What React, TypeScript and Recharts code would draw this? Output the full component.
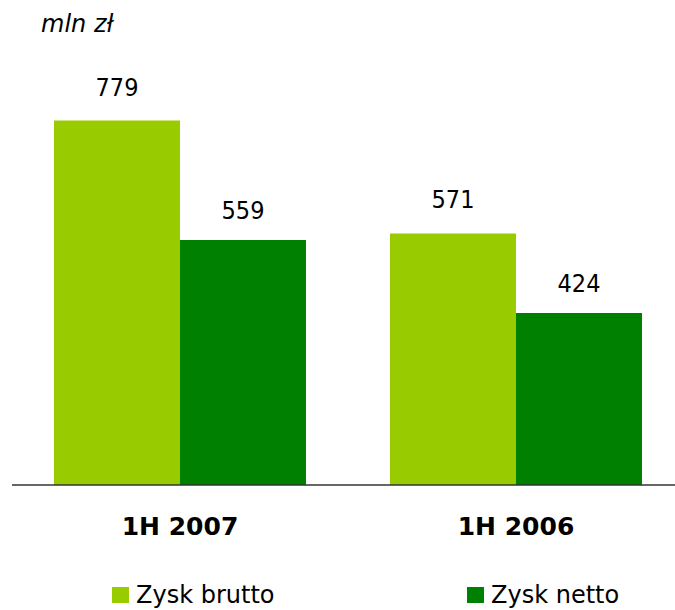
import React from 'react';
import { BarChart, Bar, XAxis, YAxis, Legend, LabelList } from 'recharts';

const periods = ['1H 2007', '1H 2006'];
const zyskBrutto = [779, 571];
const zyskNetto = [559, 424];

const data = periods.map((period, i) => ({
    period,
    brutto: zyskBrutto[i],
    netto: zyskNetto[i],
}));

const LIGHT = '#99cc00';
const DARK = '#008000';
const NUM_FONT = '"DejaVu Sans Condensed", "DejaVu Sans", sans-serif';

const renderLegend = (props: any) => {
    const { payload } = props;
    return (
        <div style={{ display: 'flex', fontFamily: '"DejaVu Sans", sans-serif', fontSize: 24, color: '#000' }}>
            {payload.map((entry: any, i: number) => (
                <div
                    key={entry.value}
                    style={{ display: 'flex', alignItems: 'center', marginLeft: i === 0 ? 112 : 0, width: i === 0 ? 355 : 200 }}
                >
                    <span style={{ display: 'inline-block', width: 17, height: 16, background: entry.color, marginRight: 7 }} />
                    <span>{entry.value}</span>
                </div>
            ))}
        </div>
    );
};

export default function App() {
    return (
        <div style={{ position: 'relative', width: 675, height: 610, overflow: 'hidden', background: '#fff' }}>
            <style>{`body { margin: 0; }`}</style>
            <div
                style={{
                    position: 'absolute',
                    left: 41,
                    top: 10,
                    fontFamily: '"DejaVu Sans", sans-serif',
                    fontStyle: 'italic',
                    fontSize: 24,
                    color: '#000',
                }}
            >
                mln zł
            </div>
            <BarChart
                width={684}
                height={610}
                data={data}
                margin={{ top: 55, right: 0, left: 12, bottom: 95 }}
                barCategoryGap={42}
                barGap={0}
            >
                <XAxis
                    dataKey="period"
                    height={30}
                    tickLine={false}
                    tickSize={0}
                    tickMargin={32}
                    stroke="#333"
                    strokeWidth={1.5}
                    tick={{ fill: '#000', fontSize: 25, fontWeight: 'bold', fontFamily: '"DejaVu Sans", sans-serif' }}
                />
                <YAxis hide type="number" domain={[107, 900]} allowDataOverflow />
                <Legend
                    content={renderLegend}
                    layout="horizontal"
                    verticalAlign="middle"
                    align="center"
                    wrapperStyle={{ top: 581, left: 0, width: 675 }}
                />
                <Bar dataKey="brutto" name="Zysk brutto" fill={LIGHT} isAnimationActive={false}>
                    <LabelList
                        dataKey="brutto"
                        position="top"
                        offset={25}
                        fill="#000"
                        style={{ fontSize: 25, fontFamily: NUM_FONT }}
                    />
                </Bar>
                <Bar dataKey="netto" name="Zysk netto" fill={DARK} isAnimationActive={false}>
                    <LabelList
                        dataKey="netto"
                        position="top"
                        offset={21}
                        fill="#000"
                        style={{ fontSize: 25, fontFamily: NUM_FONT }}
                    />
                </Bar>
            </BarChart>
        </div>
    );
}
